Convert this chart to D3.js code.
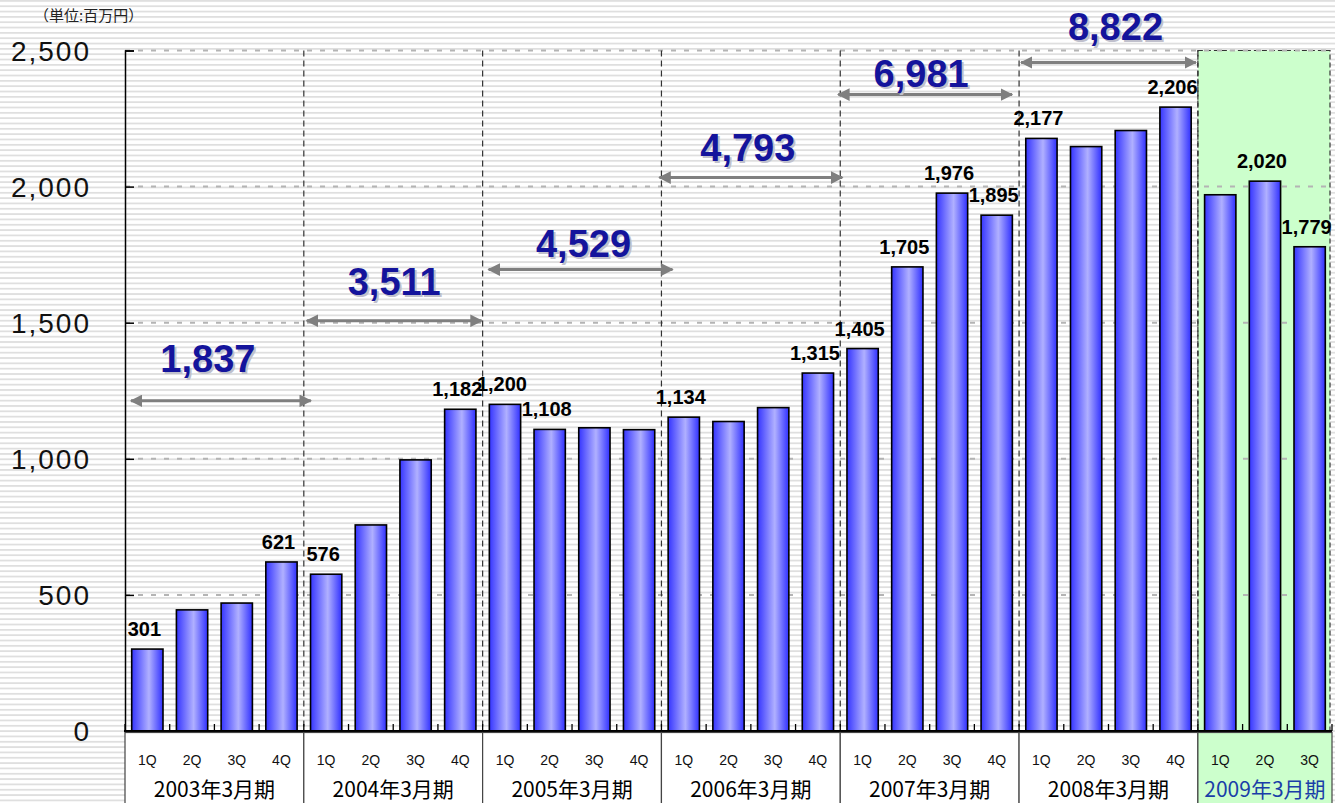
<!DOCTYPE html>
<html>
<head>
<meta charset="utf-8">
<script src="https://cdn.jsdelivr.net/npm/d3@7"></script>
<style>
  body { margin: 0; background: #fff; }
  text { font-family: "Liberation Sans", Arial, sans-serif; }
  .cjk { font-family: "Noto Sans CJK JP", "Noto Sans", sans-serif; }
</style>
</head>
<body>
<script>
// chart data
let years = ["2003年3月期", "2004年3月期", "2005年3月期", "2006年3月期", "2007年3月期", "2008年3月期", "2009年3月期"];
let quarters = ["1Q", "2Q", "3Q", "4Q"];
let quartersPerYear = [4, 4, 4, 4, 4, 4, 3];
let sales = [301, 445, 470, 621,
             576, 757, 996, 1182,
             1200, 1108, 1114, 1107,
             1153, 1137, 1188, 1315,
             1405, 1705, 1976, 1895,
             2177, 2147, 2206, 2292,
             1970, 2020, 1779];
let valueLabels = ["301", "", "", "621",
                   "576", "", "", "1,182",
                   "1,200", "1,108", "", "",
                   "1,134", "", "", "1,315",
                   "1,405", "1,705", "1,976", "1,895",
                   "2,177", "", "", "2,206",
                   "", "2,020", "1,779"];
let yearTotals = [1837, 3511, 4529, 4793, 6981, 8822];
let yTicks = [0, 500, 1000, 1500, 2000, 2500];

// annotation layout (arrow height in value units, pixel nudges)
let arrowLevel = [1213, 1507, 1695, 2033, 2338, 2456];
let arrowNudge = [[3, 8], [0, 0], [3, 12], [-5, 3], [-5, -6], [-1, -1]];
let totalLift = [29, 26, 13, 17, 8, 22];
let totalShift = [-13, 0, 3, -3, -4, 7];

let W = 1335, H = 803;
let x0 = 125, x1 = 1332, yTop = 50.5, yZero = 731;

// build slots (one per quarter)
let slots = [];
years.forEach(function(y, yi) {
  for (let q = 0; q < quartersPerYear[yi]; q++) {
    slots.push({year: yi, q: quarters[q], id: slots.length});
  }
});
slots.forEach(function(d, i) { d.value = sales[i]; d.label = valueLabels[i]; });

let xScale = d3.scaleBand().domain(slots.map(d => d.id)).range([x0, x1])
  .paddingInner(0.3).paddingOuter(0.15);
let step = xScale.step();
let yScale = d3.scaleLinear().domain([0, 2500]).range([yZero, yTop]);

// left/right pixel edges of each year group
let groupEdges = years.map(function(y, yi) {
  let ids = slots.filter(d => d.year === yi).map(d => d.id);
  let l = x0 + ids[0] * step;
  return [l, l + ids.length * step];
});

let svg = d3.select("body").append("svg")
  .attr("width", W).attr("height", H);

let defs = svg.append("defs");
let pat = defs.append("pattern").attr("id", "stripes")
  .attr("patternUnits", "userSpaceOnUse").attr("width", 10).attr("height", 5.33);
pat.append("rect").attr("width", 10).attr("height", 5.33).attr("fill", "#fff");
pat.append("rect").attr("y", 0).attr("width", 10).attr("height", 1.8).attr("fill", "#dfdfdf");

let grad = defs.append("linearGradient").attr("id", "barGrad")
  .attr("x1", "0%").attr("x2", "100%").attr("y1", "0%").attr("y2", "0%");
grad.append("stop").attr("offset", "0%").attr("stop-color", "#3535ff");
grad.append("stop").attr("offset", "55%").attr("stop-color", "#b0b0ff");
grad.append("stop").attr("offset", "100%").attr("stop-color", "#3030ff");

let arrowHead = defs.append("marker").attr("id", "ah")
  .attr("viewBox", "0 0 10 10").attr("refX", 9).attr("refY", 5)
  .attr("markerWidth", 4.2).attr("markerHeight", 4.2)
  .attr("orient", "auto-start-reverse");
arrowHead.append("path").attr("d", "M0,0 L10,5 L0,10 Z").attr("fill", "#7f7f7f");

// background stripes
svg.append("rect").attr("width", W).attr("height", H).attr("fill", "url(#stripes)");

// highlighted (current) year
let last = groupEdges[groupEdges.length - 1];
svg.append("rect")
  .attr("x", last[0]).attr("y", yTop)
  .attr("width", last[1] - last[0] - 2).attr("height", H - yTop)
  .attr("fill", "#ccffcc")
  .attr("stroke", "#333").attr("stroke-width", 1.2).attr("stroke-dasharray", "5,3");

// unit
svg.append("text").attr("class", "cjk")
  .attr("x", 34).attr("y", 21)
  .attr("font-size", 15).attr("fill", "#222")
  .text("（単位:百万円）");

// horizontal gridlines
svg.append("g").selectAll("line")
  .data(yTicks.filter(t => t > 0))
  .enter().append("line")
    .attr("x1", x0).attr("x2", x1)
    .attr("y1", d => yScale(d)).attr("y2", d => yScale(d))
    .attr("stroke", "#b4b4b4").attr("stroke-width", 2)
    .attr("stroke-dasharray", "5,8");

// vertical group separators
svg.append("g").selectAll("line")
  .data(groupEdges.slice(1))
  .enter().append("line")
    .attr("x1", d => d[0]).attr("x2", d => d[0])
    .attr("y1", yTop).attr("y2", yZero)
    .attr("stroke", "#333").attr("stroke-width", 1.2)
    .attr("stroke-dasharray", "6,4");

// y axis
let yAxis = d3.axisRight(yScale).tickValues(yTicks).tickSize(9).tickFormat("");
let yg = svg.append("g").attr("transform", "translate(" + x0 + ",0)").call(yAxis);
yg.select(".domain").attr("stroke", "#000").attr("stroke-width", 1.5);
yg.selectAll(".tick line").attr("stroke", "#000").attr("stroke-width", 1.5);

svg.append("g").selectAll("text")
  .data(yTicks)
  .enter().append("text")
    .attr("x", 91).attr("y", d => yScale(d))
    .attr("dy", "0.36em")
    .attr("text-anchor", "end")
    .attr("font-size", 28).attr("letter-spacing", 2)
    .attr("fill", "#111")
    .text(d => d3.format(",")(d));

// bars
svg.append("g").selectAll("rect")
  .data(slots)
  .enter().append("rect")
    .attr("x", d => xScale(d.id))
    .attr("y", d => yScale(d.value))
    .attr("width", xScale.bandwidth())
    .attr("height", d => yZero - yScale(d.value))
    .attr("fill", "url(#barGrad)")
    .attr("stroke", "#000").attr("stroke-width", 1.6);

// value labels
svg.append("g").selectAll("text")
  .data(slots.filter(d => d.label !== ""))
  .enter().append("text")
    .attr("x", d => xScale(d.id) + xScale.bandwidth() / 2 - 3)
    .attr("y", d => yScale(d.value) - 13)
    .attr("text-anchor", "middle")
    .attr("font-size", 20).attr("font-weight", "bold")
    .attr("fill", "#000")
    .text(d => d.label);

// x axis line with small ticks
svg.append("line")
  .attr("x1", x0 - 1).attr("x2", x1)
  .attr("y1", yZero).attr("y2", yZero)
  .attr("stroke", "#000").attr("stroke-width", 2);
svg.append("g").selectAll("line")
  .data(d3.range(slots.length + 1))
  .enter().append("line")
    .attr("x1", i => x0 + i * step).attr("x2", i => x0 + i * step)
    .attr("y1", yZero).attr("y2", yZero - 7)
    .attr("stroke", "#000").attr("stroke-width", 1.3);

// category cells
let cells = svg.append("g");
cells.selectAll("rect")
  .data(groupEdges)
  .enter().append("rect")
    .attr("x", d => d[0]).attr("y", yZero + 1.5)
    .attr("width", d => d[1] - d[0]).attr("height", H - yZero)
    .attr("fill", (d, i) => i === years.length - 1 ? "#ccffcc" : "#fff")
    .attr("stroke", "#444").attr("stroke-width", 1.2);

cells.selectAll("text.q")
  .data(slots)
  .enter().append("text")
    .attr("class", "q")
    .attr("x", d => xScale(d.id) + xScale.bandwidth() / 2)
    .attr("y", 765)
    .attr("text-anchor", "middle")
    .attr("font-size", 14).attr("fill", "#111")
    .text(d => d.q);

cells.selectAll("text.yr")
  .data(years)
  .enter().append("text")
    .attr("class", "yr cjk")
    .attr("x", (d, i) => (groupEdges[i][0] + groupEdges[i][1]) / 2)
    .attr("y", 797)
    .attr("text-anchor", "middle")
    .attr("font-size", 21)
    .attr("fill", (d, i) => i === years.length - 1 ? "#1a3ea8" : "#000")
    .text(d => d);

// year total arrows and numbers
let totals = svg.append("g");
yearTotals.forEach(function(t, i) {
  let xa = groupEdges[i][0] + arrowNudge[i][0] + 3;
  let xb = groupEdges[i][1] + arrowNudge[i][1] - 1;
  let ya = yScale(arrowLevel[i]);
  totals.append("line")
    .attr("x1", xa).attr("x2", xb).attr("y1", ya).attr("y2", ya)
    .attr("stroke", "#7f7f7f").attr("stroke-width", 3)
    .attr("marker-start", "url(#ah)").attr("marker-end", "url(#ah)");
  let cx = (xa + xb) / 2 + totalShift[i];
  let ty = ya - totalLift[i];
  totals.append("text")
    .attr("x", cx + 2).attr("y", ty + 2)
    .attr("text-anchor", "middle")
    .attr("font-size", 38).attr("font-weight", "bold")
    .attr("fill", "#c0c0cc")
    .text(d3.format(",")(t));
  totals.append("text")
    .attr("x", cx).attr("y", ty)
    .attr("text-anchor", "middle")
    .attr("font-size", 38).attr("font-weight", "bold")
    .attr("fill", "#14149c")
    .text(d3.format(",")(t));
});
</script>
</body>
</html>
